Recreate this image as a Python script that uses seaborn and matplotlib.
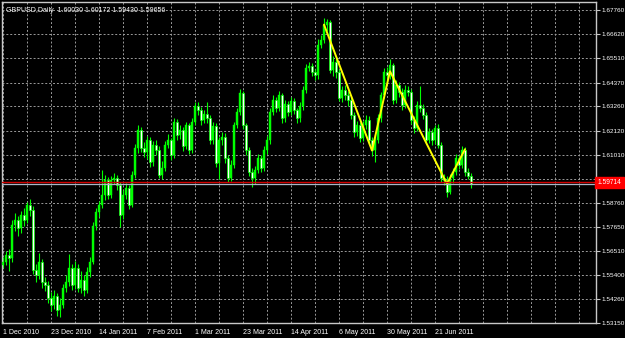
import matplotlib
matplotlib.use("Agg")
import matplotlib.pyplot as plt
import matplotlib.transforms as mtrans
import numpy as np
import pandas as pd
import seaborn as sns

# ---------------- data ----------------
opens = [1.5585,1.5600,1.5632,1.5618,1.5772,1.5796,1.5758,1.5819,1.5796,1.5866,
1.5842,1.5562,1.5539,1.5600,1.5506,1.5492,1.5432,1.5399,1.5441,1.5376,
1.5399,1.5478,1.5506,1.5572,1.5492,1.5572,1.5478,1.5516,1.5469,1.5553,
1.5600,1.5768,1.5833,1.5866,1.5913,1.5983,1.5913,1.5983,1.5992,1.5959,
1.5819,1.5913,1.5945,1.5866,1.6006,1.6132,1.6216,1.6132,1.6113,1.6169,
1.6067,1.6146,1.6123,1.6006,1.6039,1.6146,1.6169,1.6099,1.6253,1.6193,
1.6216,1.6141,1.6239,1.6123,1.6253,1.6328,1.6309,1.6263,1.6291,1.6272,
1.6169,1.6235,1.6062,1.6169,1.6183,1.6085,1.5992,1.6053,1.6239,1.6300,
1.6389,1.6239,1.6123,1.6020,1.5992,1.6029,1.6085,1.6039,1.6123,1.6169,
1.6300,1.6356,1.6319,1.6379,1.6272,1.6337,1.6300,1.6351,1.6309,1.6272,
1.6328,1.6403,1.6505,1.6515,1.6487,1.6473,1.6613,1.6636,1.6706,1.6720,
1.6496,1.6533,1.6487,1.6365,1.6403,1.6379,1.6356,1.6286,1.6207,1.6239,
1.6179,1.6239,1.6263,1.6169,1.6123,1.6169,1.6272,1.6379,1.6487,1.6473,
1.6519,1.6356,1.6426,1.6393,1.6333,1.6403,1.6393,1.6263,1.6225,1.6333,
1.6319,1.6286,1.6169,1.6207,1.6169,1.6225,1.6146,1.5992,1.5983,1.5927,
1.5992,1.6020,1.6085,1.6053,1.6123,1.6020,1.60030]

highs = [1.5625,1.5650,1.5660,1.5795,1.5830,1.5815,1.5840,1.5850,1.5880,1.5895,
1.5860,1.5590,1.5640,1.5615,1.5530,1.5510,1.5460,1.5470,1.5455,1.5430,
1.5495,1.5540,1.5635,1.5590,1.5605,1.5590,1.5560,1.5540,1.5575,1.5625,
1.5785,1.5850,1.5885,1.6030,1.6005,1.5995,1.6000,1.6015,1.6005,1.5975,
1.5935,1.5970,1.5960,1.6025,1.6150,1.6240,1.6230,1.6160,1.6190,1.6185,
1.6165,1.6170,1.6140,1.6070,1.6165,1.6195,1.6180,1.6270,1.6265,1.6240,
1.6230,1.6255,1.6250,1.6270,1.6345,1.6345,1.6325,1.6310,1.6345,1.6285,
1.6255,1.6250,1.6185,1.6205,1.6200,1.6100,1.6075,1.6255,1.6320,1.6405,
1.6400,1.6250,1.6135,1.6040,1.6050,1.6105,1.6100,1.6140,1.6190,1.6320,
1.6380,1.6370,1.6400,1.6390,1.6355,1.6350,1.6370,1.6365,1.6320,1.6345,
1.6420,1.6525,1.6535,1.6530,1.6500,1.6640,1.6660,1.6740,1.6735,1.6730,
1.6560,1.6550,1.6500,1.6420,1.6425,1.6400,1.6370,1.6300,1.6260,1.6255,
1.6260,1.6285,1.6280,1.6185,1.6195,1.6290,1.6395,1.6505,1.6510,1.6545,
1.6530,1.6450,1.6440,1.6410,1.6425,1.6420,1.6405,1.6280,1.6350,1.6420,
1.6335,1.6300,1.6225,1.6220,1.6240,1.6245,1.6160,1.6010,1.6000,1.6010,
1.6040,1.6105,1.6100,1.6140,1.6135,1.6040,1.60172]

lows = [1.5570,1.5585,1.5560,1.5600,1.5745,1.5720,1.5735,1.5770,1.5780,1.5815,
1.5545,1.5505,1.5520,1.5480,1.5465,1.5410,1.5370,1.5380,1.5350,1.5345,
1.5385,1.5460,1.5490,1.5470,1.5475,1.5460,1.5455,1.5440,1.5455,1.5530,
1.5590,1.5750,1.5810,1.5850,1.5890,1.5895,1.5900,1.5965,1.5935,1.5765,
1.5800,1.5895,1.5845,1.5855,1.5990,1.6110,1.6115,1.6090,1.6080,1.6045,
1.6050,1.6100,1.5990,1.5985,1.6025,1.6130,1.6075,1.6085,1.6170,1.6175,
1.6120,1.6125,1.6105,1.6110,1.6240,1.6285,1.6240,1.6250,1.6250,1.6150,
1.6150,1.6045,1.5985,1.6145,1.6060,1.5975,1.5980,1.6040,1.6225,1.6285,
1.6220,1.6100,1.6000,1.5950,1.5965,1.6015,1.6020,1.6025,1.6105,1.6150,
1.6285,1.6300,1.6305,1.6250,1.6255,1.6280,1.6285,1.6290,1.6250,1.6255,
1.6310,1.6390,1.6490,1.6470,1.6450,1.6455,1.6600,1.6620,1.6680,1.6480,
1.6470,1.6460,1.6350,1.6345,1.6355,1.6330,1.6265,1.6185,1.6190,1.6160,
1.6165,1.6220,1.6150,1.6095,1.6065,1.6155,1.6255,1.6365,1.6450,1.6455,
1.6335,1.6340,1.6370,1.6310,1.6320,1.6375,1.6245,1.6200,1.6210,1.6300,
1.6265,1.6150,1.6155,1.6145,1.6150,1.6130,1.5975,1.5960,1.5905,1.5915,
1.5970,1.6005,1.6035,1.6040,1.6000,1.5985,1.59430]

closes = [1.5600,1.5632,1.5618,1.5772,1.5796,1.5758,1.5819,1.5796,1.5866,1.5842,
1.5562,1.5539,1.5600,1.5506,1.5492,1.5432,1.5399,1.5441,1.5376,1.5399,
1.5478,1.5506,1.5572,1.5492,1.5572,1.5478,1.5516,1.5469,1.5553,1.5600,
1.5768,1.5833,1.5866,1.5913,1.5983,1.5913,1.5983,1.5992,1.5959,1.5819,
1.5913,1.5945,1.5866,1.6006,1.6132,1.6216,1.6132,1.6113,1.6169,1.6067,
1.6146,1.6123,1.6006,1.6039,1.6146,1.6169,1.6099,1.6253,1.6193,1.6216,
1.6141,1.6239,1.6123,1.6253,1.6328,1.6309,1.6263,1.6291,1.6272,1.6169,
1.6235,1.6062,1.6169,1.6183,1.6085,1.5992,1.6053,1.6239,1.6300,1.6389,
1.6239,1.6123,1.6020,1.5992,1.6029,1.6085,1.6039,1.6123,1.6169,1.6300,
1.6356,1.6319,1.6379,1.6272,1.6337,1.6300,1.6351,1.6309,1.6272,1.6328,
1.6403,1.6505,1.6515,1.6487,1.6473,1.6613,1.6636,1.6706,1.6720,1.6496,
1.6533,1.6487,1.6365,1.6403,1.6379,1.6356,1.6286,1.6207,1.6239,1.6179,
1.6239,1.6263,1.6169,1.6123,1.6169,1.6272,1.6379,1.6487,1.6473,1.6519,
1.6356,1.6426,1.6393,1.6333,1.6403,1.6393,1.6263,1.6225,1.6333,1.6319,
1.6286,1.6169,1.6207,1.6169,1.6225,1.6146,1.5992,1.5983,1.5927,1.5992,
1.6020,1.6085,1.6053,1.6123,1.6020,1.6003,1.59656]

date_labels = ["1 Dec 2010", "23 Dec 2010", "14 Jan 2011", "7 Feb 2011", "1 Mar 2011",
               "23 Mar 2011", "14 Apr 2011", "6 May 2011", "30 May 2011", "21 Jun 2011"]
date_label_bars = [0, 16, 32, 48, 64, 80, 96, 112, 128, 144]

price_ticks = [1.67760, 1.66620, 1.65510, 1.64370, 1.63260, 1.62120, 1.61010,
               1.59870, 1.58760, 1.57650, 1.56510, 1.55400, 1.54260, 1.53150]

zigzag_bars = [107, 123, 129, 148, 154]
zigzag_prices = [1.6708, 1.6120, 1.6490, 1.5964, 1.6126]

bid_price = 1.59714
grey_line_price = 1.59620
title_text = "GBPUSD,Daily  1.60030 1.60172 1.59430 1.59656"

# ---------------- style ----------------
sns.set_style("dark", {"axes.facecolor": "black", "figure.facecolor": "black"})
plt.rcParams["font.family"] = ["Liberation Sans", "DejaVu Sans"]

df = pd.DataFrame({"open": opens, "high": highs, "low": lows, "close": closes})
df["bar"] = np.arange(len(df))

W, H = 625, 338
fig = plt.figure(figsize=(W / 100, H / 100), dpi=100, facecolor="black")
ax = fig.add_axes([2 / W, 15 / H, 594 / W, 321 / H])
ax.set_facecolor("black")

n_slots = 198
ax.set_xlim(-0.33, n_slots - 0.33)
ax.set_ylim(1.53150, 1.68134)

grid_kw = dict(color="#9a9a9a", lw=0.7, ls=(0, (2, 2)), zorder=0)
for p in price_ticks:
    ax.axhline(p, **grid_kw)
for gx in range(0, n_slots, 8):
    ax.axvline(gx, **grid_kw)

lime = "#00ff00"
# wicks
ax.vlines(df["bar"], df["low"], df["high"], color=lime, lw=0.8, zorder=2)
# bodies
bull = df[df["close"] >= df["open"]]
bear = df[df["close"] < df["open"]]
ax.bar(bull["bar"], np.maximum(bull["close"] - bull["open"], 0.00025), bottom=bull["open"],
       width=0.62, color=lime, edgecolor=lime, lw=0.3, zorder=3)
ax.bar(bear["bar"], np.maximum(bear["open"] - bear["close"], 0.00025), bottom=bear["close"],
       width=0.62, color="white", edgecolor=lime, lw=0.5, zorder=3)

# zigzag
zz = pd.DataFrame({"bar": zigzag_bars, "price": zigzag_prices})
sns.lineplot(data=zz, x="bar", y="price", ax=ax, color="#ffff00", lw=1.4,
             sort=False, estimator=None, zorder=4, legend=False)

# bid / grey lines
ax.axhline(grey_line_price, color="#a8b8c8", lw=0.9, zorder=5)
ax.axhline(bid_price, color="#d00000", lw=1.0, zorder=5)

# spines
for s in ax.spines.values():
    s.set_color("#c8c8c8")
    s.set_linewidth(1.0)

# ticks
ax.yaxis.tick_right()
ax.set_yticks(price_ticks)
ax.set_yticklabels([f"{p:.5f}" for p in price_ticks])
ax.set_xticks(date_label_bars)
ax.set_xticklabels(date_labels, ha="left")
ax.tick_params(axis="both", colors="#c8c8c8", labelcolor="white", labelsize=4.6,
               length=3, width=0.8, direction="out")
ax.tick_params(axis="x", pad=1.5, labelsize=5)
ax.tick_params(axis="y", pad=1.0)
ax.set_xlabel("")
ax.set_ylabel("")
ax.grid(False)

# bid label box
trans = mtrans.blended_transform_factory(ax.transAxes, ax.transData)
ax.text(1.003, bid_price, f"{bid_price:.5f}", transform=trans, color="white", fontsize=4.8,
        va="center", ha="left", zorder=20, clip_on=False,
        bbox=dict(boxstyle="square,pad=0.35", fc="#ff0000", ec="#ff0000"))

# title
ax.text(0.006, 0.985, title_text, transform=ax.transAxes, color="white", fontsize=5,
        va="top", ha="left", zorder=20)

fig.savefig("out.png", dpi=100, facecolor="black")
